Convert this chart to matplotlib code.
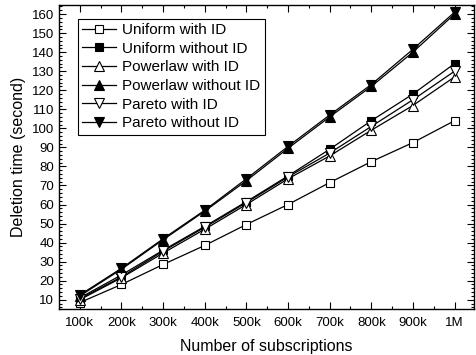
import matplotlib
matplotlib.use("Agg")
import matplotlib.pyplot as plt
from matplotlib.ticker import MultipleLocator

plt.rcParams['font.family'] = ['Liberation Sans', 'DejaVu Sans']

# subscriptions in thousands
x = [100, 200, 300, 400, 500, 600, 700, 800, 900, 1000]
xlabels = ['100k', '200k', '300k', '400k', '500k', '600k', '700k', '800k', '900k', '1M']

uniform_id = [8.5, 18, 28.5, 38.5, 49.5, 60, 71.5, 82.5, 92.5, 104]
uniform_noid = [11, 23, 36, 48.5, 61.5, 75, 89, 104, 118, 134]
power_id = [10, 21.5, 34.5, 47, 60, 73.5, 85.5, 99, 112, 127]
power_noid = [12, 26, 41.5, 56.5, 72.5, 89.5, 106, 122, 140, 160]
pareto_id = [10.5, 22, 35.5, 48, 61, 74.5, 87, 101, 115, 130]
pareto_noid = [12.5, 26.5, 42, 57, 73.5, 90.5, 107, 123, 141.5, 161]

fig = plt.figure(figsize=(4.76, 3.55), dpi=100)
ax = fig.add_axes([0.124, 0.130, 0.872, 0.856])

kw = dict(color='black', linewidth=0.9, markeredgewidth=0.8)
ax.plot(x, uniform_id, marker='s', markersize=5.2, markerfacecolor='white', label='Uniform with ID', **kw)
ax.plot(x, uniform_noid, marker='s', markersize=5.2, markerfacecolor='black', label='Uniform without ID', **kw)
ax.plot(x, power_id, marker='^', markersize=6.5, markerfacecolor='white', label='Powerlaw with ID', **kw)
ax.plot(x, power_noid, marker='^', markersize=6.5, markerfacecolor='black', label='Powerlaw without ID', **kw)
ax.plot(x, pareto_id, marker='v', markersize=6.5, markerfacecolor='white', label='Pareto with ID', **kw)
ax.plot(x, pareto_noid, marker='v', markersize=6.5, markerfacecolor='black', label='Pareto without ID', **kw)

ax.set_xlim(50, 1047)
ax.set_ylim(5.2, 164.8)
ax.set_xticks(x)
ax.set_xticklabels(xlabels)
ax.xaxis.set_minor_locator(MultipleLocator(50))
ax.yaxis.set_major_locator(MultipleLocator(10))
ax.yaxis.set_minor_locator(MultipleLocator(2))
ax.set_yticks(range(10, 161, 10))
ax.tick_params(which='both', direction='in', top=True, right=True, labelsize=9.5, width=0.8)
ax.tick_params(which='major', length=5)
ax.tick_params(which='minor', length=2.5)
ax.tick_params(axis='x', pad=6)
for s in ax.spines.values():
    s.set_linewidth(1.0)

ax.set_xlabel('Number of subscriptions', fontsize=11.5, labelpad=7)
ax.set_ylabel('Deletion time (second)', fontsize=11.5, labelpad=4)

leg = ax.legend(loc='upper left', bbox_to_anchor=(0.045, 0.955), fontsize=11,
                frameon=True, fancybox=False, edgecolor='black', framealpha=1,
                handlelength=2.2, handletextpad=0.4, labelspacing=0.3, borderpad=0.3,
                borderaxespad=0)
leg.get_frame().set_linewidth(0.8)

fig.savefig('out.png', dpi=100)
